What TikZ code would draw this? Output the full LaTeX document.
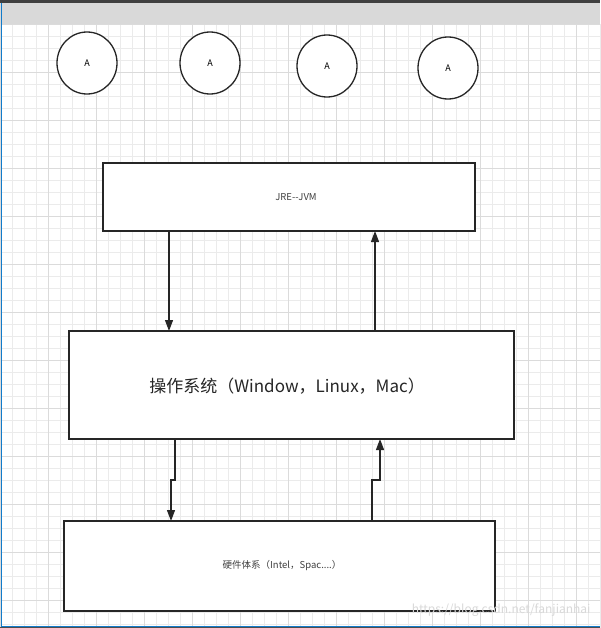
\documentclass[tikz,border=0pt]{standalone}
\usepackage{fontspec}
\setmainfont{Noto Sans CJK SC}
\usetikzlibrary{arrows.meta,shapes.geometric}
\begin{document}
\begin{tikzpicture}[x=1pt,y=-1pt,
  box/.style={draw=black!85,line width=1.2pt,fill=white},
  circ/.style={draw=black!85,line width=1.3pt,fill=white,ellipse,minimum width=62pt,minimum height=62pt,inner sep=0pt},
  conn/.style={draw=black!85,line width=1.2pt,-{Triangle[length=11pt,width=8pt]}},
  small/.style={font=\fontsize{9.5}{11}\selectfont,text=black!75}]
\useasboundingbox (0,0) rectangle (600,628);
\fill[white] (0,0) rectangle (600,628);
\foreach \i in {0,12,...,600} \draw[black!8,line width=0.4pt] (\i,24) -- (\i,628);
\foreach \j in {24,36,...,628} \draw[black!8,line width=0.4pt] (0,\j) -- (600,\j);
\foreach \i in {0,48,...,600} \draw[black!14,line width=0.5pt] (\i,24) -- (\i,628);
\foreach \j in {24,72,...,628} \draw[black!14,line width=0.5pt] (0,\j) -- (600,\j);
\fill[gray!30] (0,3) rectangle (600,24);
\fill[black!75] (0,0) rectangle (600,3);
\draw[cyan!60!blue,line width=1pt] (1,3) -- (1,626) -- (600,626);
\fill[black!70] (0,627) rectangle (600,628);
\node[circ,minimum width=60pt] (a1) at (87,63) {\small A};
\node[circ,minimum width=60pt] (a2) at (210,63) {\small A};
\node[circ,minimum width=60pt] (a3) at (327,66) {\small A};
\node[circ,minimum width=60pt] (a4) at (448,68) {\small A};
\path (103,163) coordinate (j1) (475,231) coordinate (j2);
\draw[box] (j1) rectangle (j2);
\node[small] (jre) at (296,197) {JRE-{}-JVM};
\draw[box] (69,331) rectangle (514,439);
\node[font=\fontsize{17}{20}\selectfont,text=black!85] (os) at (287,386) {操作系统（Window，Linux，Mac）};
\draw[box] (64,521) rectangle (495,611);
\node[small] (hw) at (282,566) {硬件体系（Intel，Spac....）};
\coordinate (d1s) at (169,231); \coordinate (d1e) at (169,331);
\coordinate (u1s) at (375,331); \coordinate (u1e) at (375,231);
\draw[conn] (d1s) -- (d1e);
\draw[conn] (u1s) -- (u1e);
\coordinate (d2s) at (175,439); \coordinate (d2e) at (171,521);
\coordinate (u2s) at (372,521); \coordinate (u2e) at (380,439);
\draw[conn] (d2s) -- (175,480) -- (171,480) -- (d2e);
\draw[conn] (u2s) -- (372,480) -- (380,480) -- (u2e);
\node[text=black!15,font=\fontsize{12}{13}\selectfont,anchor=east] (wm) at (594,610) {https://blog.csdn.net/fanjianhai};
\end{tikzpicture}
\end{document}
